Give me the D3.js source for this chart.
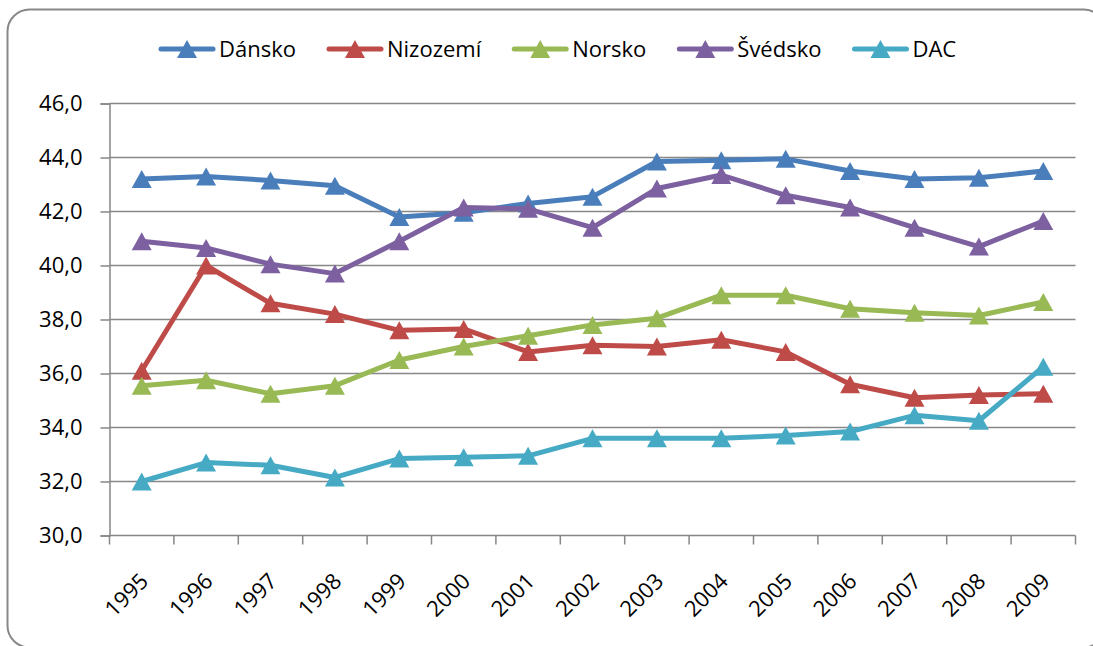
<!DOCTYPE html>
<html>
<head>
<meta charset="utf-8">
<script src="https://cdn.jsdelivr.net/npm/d3@7"></script>
<style>
  html, body { margin: 0; padding: 0; background: #fff; }
  svg { display: block; font-family: "Open Sans", "Noto Sans", sans-serif; }
</style>
</head>
<body>
<svg width="1093" height="646"></svg>
<script>
var years = ["1995", "1996", "1997", "1998", "1999", "2000", "2001", "2002",
             "2003", "2004", "2005", "2006", "2007", "2008", "2009"];

var dansko   = [43.2, 43.3, 43.15, 42.95, 41.8, 41.95, 42.3, 42.55, 43.85, 43.9, 43.95, 43.5, 43.2, 43.25, 43.5];
var nizozemi = [36.1, 40.0, 38.6, 38.2, 37.6, 37.65, 36.8, 37.05, 37.0, 37.25, 36.8, 35.6, 35.1, 35.2, 35.25];
var norsko   = [35.55, 35.75, 35.25, 35.55, 36.5, 37.0, 37.4, 37.8, 38.05, 38.9, 38.9, 38.4, 38.25, 38.15, 38.65];
var svedsko  = [40.9, 40.65, 40.05, 39.7, 40.9, 42.15, 42.1, 41.4, 42.85, 43.35, 42.6, 42.15, 41.4, 40.7, 41.65];
var dac      = [32.0, 32.7, 32.6, 32.15, 32.85, 32.9, 32.95, 33.6, 33.6, 33.6, 33.7, 33.85, 34.45, 34.25, 36.25];

var seriesNames = ["Dánsko", "Nizozemí", "Norsko", "Švédsko", "DAC"];
var seriesColors = ["#4a7ebb", "#be4b48", "#98b954", "#7d60a0", "#46aac5"];
var yTicks = [30, 32, 34, 36, 38, 40, 42, 44, 46];

var series = [dansko, nizozemi, norsko, svedsko, dac].map(function(vals, i) {
  return {name: seriesNames[i], color: seriesColors[i],
          values: vals.map(function(v, j) { return {year: years[j], value: v}; })};
});

var svg = d3.select("svg"),
    margin = {top: 103.5, right: 17.5, bottom: 110.5, left: 109.5},
    width = +svg.attr("width"),
    height = +svg.attr("height");

// outer chart frame
svg.append("rect")
    .attr("x", 7.5).attr("y", 9.5)
    .attr("width", 1098).attr("height", 638)
    .attr("rx", 22).attr("ry", 22)
    .attr("fill", "#fff")
    .attr("stroke", "#888")
    .attr("stroke-width", 2);

var x = d3.scaleBand()
    .domain(years)
    .range([margin.left, width - margin.right]);

var y = d3.scaleLinear()
    .domain([30, 46])
    .range([height - margin.bottom, margin.top]);

var gridColor = "#878787";

// horizontal gridlines
svg.append("g")
  .selectAll("line")
  .data(yTicks.slice(1))
  .enter().append("line")
    .attr("x1", margin.left).attr("x2", width - margin.right)
    .attr("y1", function(d) { return y(d); })
    .attr("y2", function(d) { return y(d); })
    .attr("stroke", gridColor)
    .attr("stroke-width", 1.5);

// y axis
var yAxis = svg.append("g")
    .attr("transform", "translate(" + margin.left + ",0)")
    .call(d3.axisLeft(y).tickValues(yTicks).tickSize(9).tickPadding(18)
      .tickFormat(function(d) { return d3.format(".1f")(d).replace(".", ","); }));
yAxis.select(".domain").attr("stroke", gridColor).attr("stroke-width", 1.5);
yAxis.selectAll(".tick line").attr("stroke", gridColor).attr("stroke-width", 1.5);
yAxis.selectAll(".tick text")
    .attr("font-size", 22).attr("fill", "#000")
    .attr("font-family", "Open Sans, sans-serif");

// x axis
var xAxis = svg.append("g")
    .attr("transform", "translate(0," + y(30) + ")");
xAxis.append("line")
    .attr("x1", margin.left).attr("x2", width - margin.right)
    .attr("stroke", gridColor).attr("stroke-width", 1.5);
var edges = years.map(function(d) { return x(d); }).concat([x(years[years.length - 1]) + x.bandwidth()]);
xAxis.selectAll(".xtick")
  .data(edges)
  .enter().append("line")
    .attr("class", "xtick")
    .attr("x1", function(d) { return d; }).attr("x2", function(d) { return d; })
    .attr("y1", 0).attr("y2", 9)
    .attr("stroke", gridColor).attr("stroke-width", 1.5);
xAxis.selectAll(".xlabel")
  .data(years)
  .enter().append("text")
    .attr("class", "xlabel")
    .attr("transform", function(d) {
      return "translate(" + (x(d) + x.bandwidth() / 2 + 8) + ",47) rotate(-45)";
    })
    .attr("text-anchor", "end")
    .attr("font-size", 22)
    .attr("fill", "#000")
    .text(function(d) { return d; });

// lines and markers
var line = d3.line()
    .x(function(d) { return x(d.year) + x.bandwidth() / 2; })
    .y(function(d) { return y(d.value); });

var tri = "M0,-9L10,9L-10,9Z";

var g = svg.append("g")
  .selectAll("g")
  .data(series)
  .enter().append("g");

g.append("path")
    .attr("d", function(d) { return line(d.values); })
    .attr("fill", "none")
    .attr("stroke", function(d) { return d.color; })
    .attr("stroke-width", 5)
    .attr("stroke-linejoin", "round")
    .attr("stroke-linecap", "round");

g.selectAll("path.marker")
  .data(function(d) { return d.values.map(function(v) { return {v: v, color: d.color}; }); })
  .enter().append("path")
    .attr("class", "marker")
    .attr("d", tri)
    .attr("transform", function(d) {
      return "translate(" + (x(d.v.year) + x.bandwidth() / 2) + "," + y(d.v.value) + ")";
    })
    .attr("fill", function(d) { return d.color; });

// legend
var legend = svg.append("g").attr("transform", "translate(159,49)");
var lx = 0;
series.forEach(function(s) {
  var item = legend.append("g").attr("transform", "translate(" + lx + ",0)");
  item.append("line")
      .attr("x1", 2).attr("x2", 54)
      .attr("stroke", s.color).attr("stroke-width", 5)
      .attr("stroke-linecap", "round");
  item.append("path")
      .attr("d", tri)
      .attr("transform", "translate(28,0)")
      .attr("fill", s.color);
  var t = item.append("text")
      .attr("x", 60).attr("dy", "0.36em")
      .attr("font-size", 22)
      .attr("fill", "#000")
      .text(s.name);
  lx += 60 + t.node().getComputedTextLength() + 31;
});
</script>
</body>
</html>
